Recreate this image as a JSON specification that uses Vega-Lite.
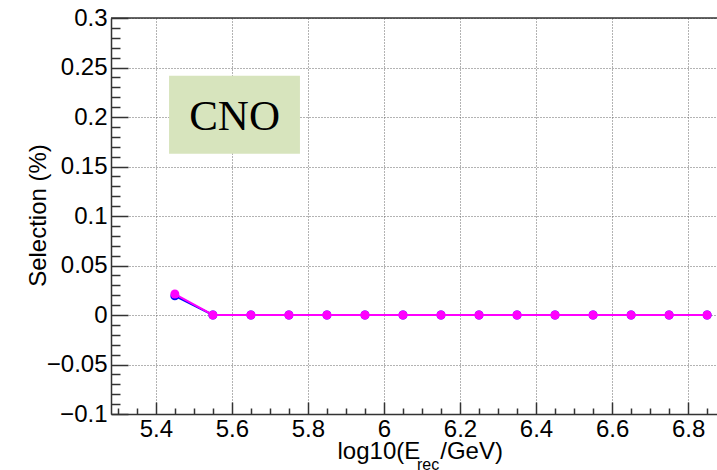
{
  "$schema": "https://vega.github.io/schema/vega-lite/v6.json",
  "width": 606,
  "height": 396,
  "autosize": {"type": "none"},
  "padding": {"left": 111, "top": 18, "right": 0, "bottom": 56},
  "background": "white",
  "config": {"view": {"stroke": null}, "font": "Liberation Sans"},
  "title": {"text": "rec", "orient": "bottom", "anchor": "start", "frame": "group", "font": "Liberation Sans", "fontSize": 16, "fontWeight": "normal", "color": "black", "dx": 306, "dy": 7, "offset": 0, "baseline": "alphabetic"},
  "datasets": {
    "one": [{}],
    "blue": [
      {"x": 5.45, "y": 0.0193}, {"x": 5.55, "y": 0}, {"x": 5.65, "y": 0}, {"x": 5.75, "y": 0}, {"x": 5.85, "y": 0},
      {"x": 5.95, "y": 0}, {"x": 6.05, "y": 0}, {"x": 6.15, "y": 0}, {"x": 6.25, "y": 0}, {"x": 6.35, "y": 0},
      {"x": 6.45, "y": 0}, {"x": 6.55, "y": 0}, {"x": 6.65, "y": 0}, {"x": 6.75, "y": 0}, {"x": 6.85, "y": 0}
    ],
    "magenta": [
      {"x": 5.45, "y": 0.0212}, {"x": 5.55, "y": 0}, {"x": 5.65, "y": 0}, {"x": 5.75, "y": 0}, {"x": 5.85, "y": 0},
      {"x": 5.95, "y": 0}, {"x": 6.05, "y": 0}, {"x": 6.15, "y": 0}, {"x": 6.25, "y": 0}, {"x": 6.35, "y": 0},
      {"x": 6.45, "y": 0}, {"x": 6.55, "y": 0}, {"x": 6.65, "y": 0}, {"x": 6.75, "y": 0}, {"x": 6.85, "y": 0}
    ]
  },
  "layer": [
    {
      "data": {"name": "one"},
      "mark": {"type": "rect", "fill": "#d7e4bd"},
      "encoding": {
        "x": {"datum": 5.4347, "type": "quantitative",
          "scale": {"domain": [5.282, 6.876], "nice": false, "zero": false},
          "axis": {
            "values": [5.3,5.35,5.4,5.45,5.5,5.55,5.6,5.65,5.7,5.75,5.8,5.85,5.9,5.95,6,6.05,6.1,6.15,6.2,6.25,6.3,6.35,6.4,6.45,6.5,6.55,6.6,6.65,6.7,6.75,6.8,6.85],
            "tickCount": 200,
            "title": "log10(E\u00a0\u00a0\u00a0/GeV)",
            "titleX": 226, "titleY": 44, "titleAlign": "left", "titleBaseline": "alphabetic",
            "titleFont": "Liberation Sans", "titleFontSize": 24, "titleFontWeight": "normal", "titleColor": "black",
            "labelExpr": "abs(datum.value*5-round(datum.value*5))<0.001 ? toString(round(datum.value*10)/10) : ''",
            "labelFont": "Liberation Sans", "labelFontSize": 24, "labelColor": "black", "labelPadding": 15,
            "labelOverlap": false, "labelFlush": false, "labelBound": false,
            "tickSize": {"condition": {"test": "abs(datum.value*5-round(datum.value*5))<0.001", "value": -12}, "value": -6},
            "tickColor": "#333", "tickWidth": 1.5,
            "domainColor": "#333", "domainWidth": 1.5,
            "grid": true, "gridColor": "#666", "gridDash": [1, 2], "gridWidth": 1,
            "gridOpacity": {"condition": {"test": "abs(datum.value*5-round(datum.value*5))<0.001", "value": 1}, "value": 0}
          }
        },
        "x2": {"datum": 5.779},
        "y": {"datum": 0.2417, "type": "quantitative",
          "scale": {"domain": [-0.1, 0.3], "nice": false, "zero": false},
          "axis": {
            "values": [-0.1,-0.09,-0.08,-0.07,-0.06,-0.05,-0.04,-0.03,-0.02,-0.01,0,0.01,0.02,0.03,0.04,0.05,0.06,0.07,0.08,0.09,0.1,0.11,0.12,0.13,0.14,0.15,0.16,0.17,0.18,0.19,0.2,0.21,0.22,0.23,0.24,0.25,0.26,0.27,0.28,0.29,0.3],
            "tickCount": 200,
            "title": "Selection (%)",
            "titleX": -73, "titleY": 197, "titleAngle": -90, "titleAlign": "center", "titleBaseline": "middle",
            "titleFont": "Liberation Sans", "titleFontSize": 24, "titleFontWeight": "normal", "titleColor": "black",
            "labelExpr": "abs(datum.value*20-round(datum.value*20))<0.001 ? replace(toString(round(datum.value*100)/100), '-', '\u2212') : ''",
            "labelFont": "Liberation Sans", "labelFontSize": 24, "labelColor": "black", "labelPadding": 21,
            "labelOverlap": false, "labelFlush": false, "labelBound": false,
            "tickSize": {"condition": {"test": "abs(datum.value*20-round(datum.value*20))<0.001", "value": -17}, "value": -9},
            "tickColor": "#333", "tickWidth": 1.5,
            "domainColor": "#333", "domainWidth": 1.5,
            "grid": true, "gridColor": "#666", "gridDash": [1, 2], "gridWidth": 1,
            "gridOpacity": {"condition": {"test": "abs(datum.value*20-round(datum.value*20))<0.001", "value": 1}, "value": 0}
          }
        },
        "y2": {"datum": 0.163}
      }
    },
    {
      "data": {"name": "one"},
      "mark": {"type": "text", "text": "CNO", "font": "Liberation Serif", "fontSize": 43, "color": "black", "align": "center", "baseline": "middle"},
      "encoding": {
        "x": {"datum": 5.607, "type": "quantitative", "scale": {"domain": [5.282, 6.876], "nice": false, "zero": false}},
        "y": {"datum": 0.2005, "type": "quantitative", "scale": {"domain": [-0.1, 0.3], "nice": false, "zero": false}}
      }
    },
    {
      "data": {"name": "blue"},
      "mark": {"type": "line", "color": "#0000ff", "strokeWidth": 2, "point": {"filled": true, "size": 80, "color": "#0000ff"}},
      "encoding": {
        "x": {"field": "x", "type": "quantitative", "scale": {"domain": [5.282, 6.876], "nice": false, "zero": false}},
        "y": {"field": "y", "type": "quantitative", "scale": {"domain": [-0.1, 0.3], "nice": false, "zero": false}}
      }
    },
    {
      "data": {"name": "magenta"},
      "mark": {"type": "line", "color": "#ff00ff", "strokeWidth": 2, "point": {"filled": true, "size": 80, "color": "#ff00ff", "opacity": 1}},
      "encoding": {
        "x": {"field": "x", "type": "quantitative", "scale": {"domain": [5.282, 6.876], "nice": false, "zero": false}},
        "y": {"field": "y", "type": "quantitative", "scale": {"domain": [-0.1, 0.3], "nice": false, "zero": false}}
      }
    },
    {
      "data": {"name": "one"},
      "mark": {"type": "rule", "color": "#333", "strokeWidth": 1.5},
      "encoding": {
        "y": {"datum": 0.3, "type": "quantitative", "scale": {"domain": [-0.1, 0.3], "nice": false, "zero": false}}
      }
    }
  ]
}
